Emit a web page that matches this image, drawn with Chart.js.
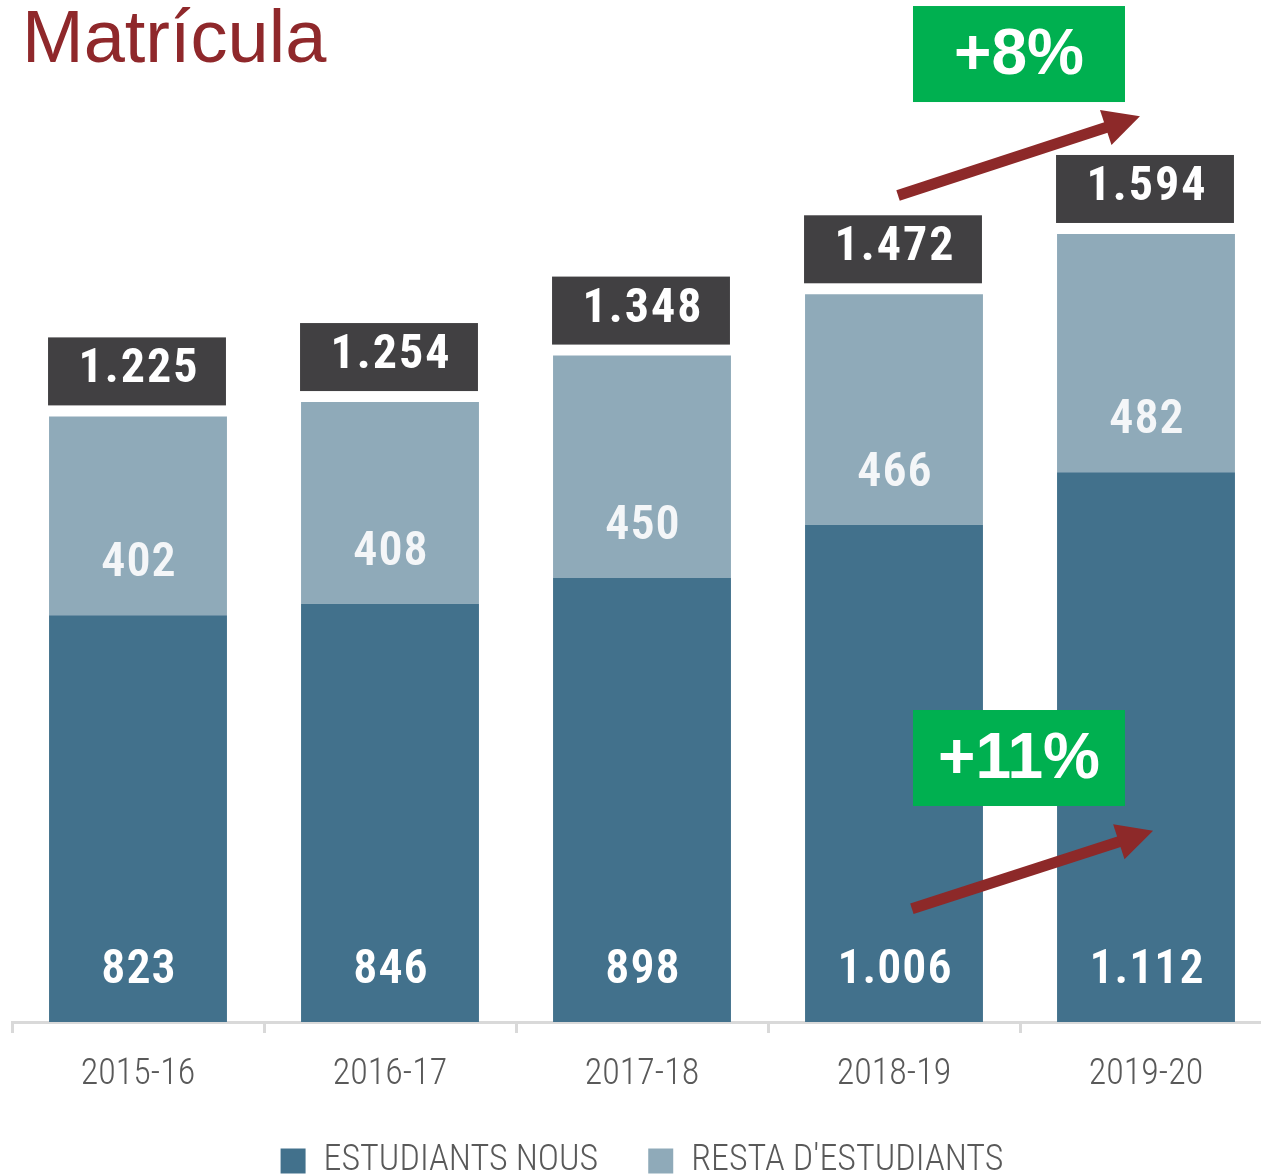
<!DOCTYPE html>
<html><head><meta charset="utf-8">
<script src="https://cdn.jsdelivr.net/npm/chart.js@4.4.1/dist/chart.umd.min.js"></script>
<style>
html,body{margin:0;padding:0;background:#fff;overflow:hidden;width:1261px;height:1175px;}
#wrap{position:relative;width:1280px;height:1175px;}
#title{position:absolute;left:22px;top:0;font:74px 'Liberation Sans',Arial,sans-serif;line-height:74px;color:#8F282B;white-space:nowrap;}
canvas{position:absolute;left:0;top:0;}
</style></head><body>
<div id="wrap"><canvas id="c" width="1280" height="1175"></canvas><div id="title">Matrícula</div></div>
<script>
// ---- data ----
const categories = ['2015-16', '2016-17', '2017-18', '2018-19', '2019-20'];
const newStudents = [823, 846, 898, 1006, 1112];
const otherStudents = [402, 408, 450, 466, 482];
const totals = [1225, 1254, 1348, 1472, 1594];
const seriesNames = ['ESTUDIANTS NOUS', "RESTA D'ESTUDIANTS"];
const growthTexts = ['+8%', '+11%'];

// ---- annotation placement (data coordinates: category index, value) ----
const growthNotes = [
  { box: { x: 3.496, y: 1958 }, from: { x: 3.016, y: 1672 }, to: { x: 3.976, y: 1832 } },
  { box: { x: 3.496, y: 534 },  from: { x: 3.071, y: 229 },  to: { x: 4.028, y: 387 } }
];

const COND = "'Roboto Condensed', 'DejaVu Sans Condensed', sans-serif";
const fmt = n => String(n).replace(/\B(?=(\d{3})+(?!\d))/g, '.');

function drawArrow(ctx, x1, y1, x2, y2, color) {
  const ang = Math.atan2(y2 - y1, x2 - x1);
  const L = 36, W = 37, t = 11;
  const bx = x2 - L * Math.cos(ang), by = y2 - L * Math.sin(ang);
  ctx.strokeStyle = color; ctx.fillStyle = color; ctx.lineWidth = t; ctx.lineCap = 'butt';
  ctx.beginPath(); ctx.moveTo(x1, y1); ctx.lineTo(bx + Math.cos(ang), by + Math.sin(ang)); ctx.stroke();
  ctx.beginPath();
  ctx.moveTo(x2, y2);
  ctx.lineTo(bx + (W / 2) * Math.sin(ang), by - (W / 2) * Math.cos(ang));
  ctx.lineTo(bx - (W / 2) * Math.sin(ang), by + (W / 2) * Math.cos(ang));
  ctx.closePath(); ctx.fill();
}

const labelPlugin = {
  id: 'barLabels',
  afterDatasetsDraw(chart) {
    const ctx = chart.ctx;
    const xs = chart.scales.x, ys = chart.scales.y;
    const m0 = chart.getDatasetMeta(0), m1 = chart.getDatasetMeta(1);
    ctx.save();
    ctx.textAlign = 'center'; ctx.textBaseline = 'middle';
    ctx.font = '600 48px ' + COND;
    try { ctx.letterSpacing = '1px'; } catch (e) {}
    [m0, m1].forEach((m, di) => {
      m.data.forEach((el, i) => {
        const v = chart.data.datasets[di].data[i];
        ctx.fillStyle = di === 0 ? '#ffffff' : '#f4f6f8';
        ctx.fillText(fmt(v), el.x + 1, el.base - 51);
      });
    });
    ctx.font = 'bold 48px ' + COND;
    try { ctx.letterSpacing = '2px'; } catch (e) {}
    m1.data.forEach((el, i) => {
      const w = el.width, h = 68, bottom = el.y - 11;
      ctx.fillStyle = '#414042';
      ctx.fillRect(el.x - w / 2 - 1, bottom - h, w, h);
      ctx.fillStyle = '#ffffff';
      ctx.fillText(fmt(totals[i]), el.x + 1, bottom - h / 2 - 1);
    });
    try { ctx.letterSpacing = '0px'; } catch (e) {}
    const x0 = xs.getPixelForValue(0), step = xs.getPixelForValue(1) - x0;
    const px = v => x0 + v * step;
    growthNotes.forEach((g, k) => {
      drawArrow(ctx, px(g.from.x), ys.getPixelForValue(g.from.y), px(g.to.x), ys.getPixelForValue(g.to.y), '#8D2929');
      const cx = px(g.box.x), cy = ys.getPixelForValue(g.box.y);
      ctx.fillStyle = '#00B050';
      ctx.fillRect(cx - 106, cy - 48, 212, 96);
      ctx.fillStyle = '#ffffff';
      ctx.font = "bold 64px 'Liberation Sans', Arial, sans-serif";
      ctx.fillText(growthTexts[k], cx, cy + 2);
    });
    ctx.restore();
  }
};

new Chart(document.getElementById('c'), {
  type: 'bar',
  data: {
    labels: categories,
    datasets: [
      { label: seriesNames[0], data: newStudents, backgroundColor: '#42718C', borderWidth: 0,
        barPercentage: 0.706, categoryPercentage: 1 },
      { label: seriesNames[1], data: otherStudents, backgroundColor: '#8FAAB9', borderWidth: 0,
        barPercentage: 0.706, categoryPercentage: 1 }
    ]
  },
  options: {
    responsive: false,
    animation: false,
    devicePixelRatio: 1,
    layout: { padding: { left: 12, right: 8, top: 100, bottom: -14 } },
    plugins: {
      title: { display: false },
      tooltip: { enabled: false },
      legend: {
        position: 'bottom',
        labels: {
          boxWidth: 25, boxHeight: 25, padding: 50,
          color: '#595959',
          font: { size: 36, family: COND, weight: '300' }
        }
      }
    },
    scales: {
      x: {
        stacked: true,
        grid: { display: true, drawOnChartArea: false, drawTicks: true, tickLength: 11,
                color: '#d9d9d9', lineWidth: 3, offset: true },
        border: { display: true, color: '#d9d9d9', width: 3 },
        ticks: { color: '#595959', padding: 20, font: { size: 36, family: COND, weight: '300' } },
        afterFit: s => { s.height = 71; }
      },
      y: { stacked: true, display: false, min: 0, max: 1865 }
    }
  },
  plugins: [labelPlugin]
});
</script>
</body></html>
